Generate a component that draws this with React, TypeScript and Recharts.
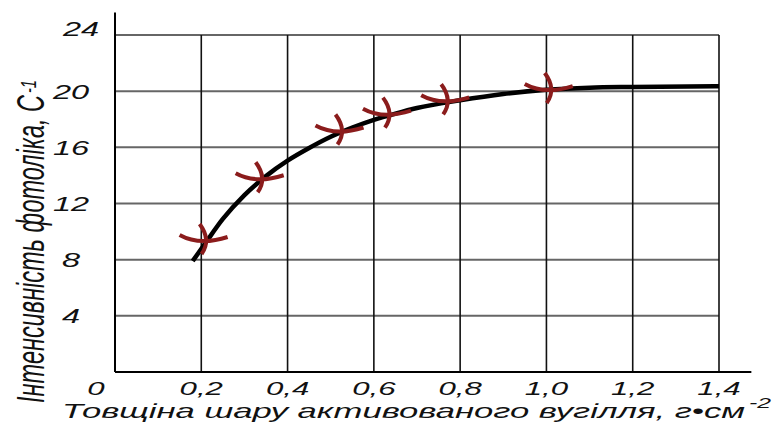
import { ComposedChart, Line, Scatter, XAxis, YAxis, CartesianGrid, ReferenceLine } from 'recharts';

const FONT = '"Liberation Sans", Arial, sans-serif';
const RED = '#8b1c1c';

// smooth fitted curve
const curveX = [0.18, 0.21, 0.25, 0.3, 0.35, 0.4, 0.45, 0.5, 0.55, 0.6, 0.65, 0.7, 0.8, 0.9, 1.0, 1.1, 1.2, 1.4];
const curveY = [7.9, 9.2, 10.9, 12.6, 13.95, 15.05, 15.95, 16.75, 17.4, 17.95, 18.4, 18.8, 19.35, 19.8, 20.1, 20.25, 20.3, 20.35];

// measured points (red markers)
const pointX = [0.21, 0.34, 0.525, 0.635, 0.77, 1.01];
const pointY = [9.4, 13.8, 17.2, 18.4, 19.35, 20.15];

const xTicks = [0, 0.2, 0.4, 0.6, 0.8, 1.0, 1.2, 1.4];
const xTickLabels = ['0', '0,2', '0,4', '0,6', '0,8', '1,0', '1,2', '1,4'];
const yTicks = [0, 4, 8, 12, 16, 20, 24];
const yTickLabels = ['', '4', '8', '12', '16', '20', '24'];

const xTitle = 'Товщіна шару активованого вугілля, г•см';
const xTitleSup = '-2';
const yTitle = 'Інтенсивність фотоліка, С';
const yTitleSup = '-1';

const curve = curveX.map((x, i) => ({ x, y: curveY[i] }));
const points = pointX.map((x, i) => ({ x, y: pointY[i] }));

function Marker(props: any) {
  const { cx, cy } = props;
  return (
    <g transform={`translate(${cx},${cy})`} fill="none" stroke={RED} strokeWidth={4}>
      <path d="M -26,-5 Q -6,6 22,-3" />
      <path d="M -6,-16 Q 6,0 -4,14" />
    </g>
  );
}

function XTick(props: any) {
  const { x, y, payload } = props;
  const label = xTickLabels[xTicks.indexOf(payload.value)];
  const dx = payload.value === 0 ? -19 : 0;
  return (
    <text
      transform={`translate(${x + dx},${y + 15}) scale(1.95,1.12)`}
      textAnchor="middle"
      fontSize={16}
      fontStyle="italic"
      fontFamily={FONT}
      fill="#111"
    >
      {label}
    </text>
  );
}

function YTick(props: any) {
  const { y, payload } = props;
  const label = yTickLabels[yTicks.indexOf(payload.value)];
  if (!label) return <g />;
  // the top label sits a little off in the original
  const dx = payload.value === 24 ? 10 : 0;
  const dy = payload.value === 24 ? -7 : 0;
  return (
    <text
      transform={`translate(${71 + dx},${y + 7.5 + dy}) scale(1.55,1)`}
      textAnchor="middle"
      fontSize={21}
      fontStyle="italic"
      fontFamily={FONT}
      fill="#111"
    >
      {label}
    </text>
  );
}

function XTitle(props: any) {
  const vb = props.viewBox;
  const x0 = vb.x - 53;
  const base = vb.y + 46;
  return (
    <g fontFamily={FONT} fontStyle="italic" fill="#111">
      <text
        transform={`translate(${x0},${base}) scale(1,1.1)`}
        fontSize={19}
        textLength={683}
        lengthAdjust="spacingAndGlyphs"
      >
        {xTitle}
      </text>
      <text x={x0 + 687} y={base - 10} fontSize={14} textLength={22} lengthAdjust="spacingAndGlyphs">
        {xTitleSup}
      </text>
    </g>
  );
}

function YTitle(props: any) {
  const vb = props.viewBox;
  const bx = 44;
  const by = vb.y + vb.height + 31;
  return (
    <g fontFamily={FONT} fontStyle="italic" fill="#111">
      <text
        transform={`translate(${bx},${by}) rotate(-90) scale(1,1.5)`}
        fontSize={26}
        textLength={308}
        lengthAdjust="spacingAndGlyphs"
      >
        {yTitle}
      </text>
      <text
        transform={`translate(${bx - 8},${by - 310}) rotate(-90) scale(1,1.5)`}
        fontSize={15}
        textLength={13}
        lengthAdjust="spacingAndGlyphs"
      >
        {yTitleSup}
      </text>
    </g>
  );
}

export default function App() {
  return (
    <div style={{ position: 'absolute', left: 0, top: 0, width: 776, height: 430, background: '#fff' }}>
      <ComposedChart width={776} height={430} margin={{ top: 35, right: 57, bottom: 0, left: 0 }}>
        <CartesianGrid horizontal={true} vertical={false} stroke="#666" strokeWidth={2} />
        <CartesianGrid horizontal={false} vertical={true} stroke="#111" strokeWidth={1.6} />
        <XAxis
          dataKey="x"
          type="number"
          domain={[0, 1.4]}
          ticks={xTicks}
          tick={<XTick />}
          tickLine={false}
          axisLine={{ stroke: '#000', strokeWidth: 2 }}
          height={58}
          label={{ content: <XTitle /> }}
        />
        <YAxis
          type="number"
          domain={[0, 24]}
          ticks={yTicks}
          tick={<YTick />}
          tickLine={false}
          axisLine={{ stroke: '#000', strokeWidth: 2 }}
          width={115}
          label={{ content: <YTitle /> }}
        />
        <ReferenceLine
          segment={[{ x: 0, y: 24 }, { x: 0, y: 25.6 }]}
          stroke="#000"
          strokeWidth={2}
          ifOverflow="visible"
        />
        <ReferenceLine
          segment={[{ x: 1.4, y: 0 }, { x: 1.475, y: 0 }]}
          stroke="#000"
          strokeWidth={2}
          ifOverflow="visible"
        />
        <Line
          data={curve}
          dataKey="y"
          type="monotone"
          stroke="#000"
          strokeWidth={4.5}
          dot={false}
          activeDot={false}
          isAnimationActive={false}
        />
        <Scatter data={points} dataKey="y" shape={<Marker />} isAnimationActive={false} />
      </ComposedChart>
    </div>
  );
}
